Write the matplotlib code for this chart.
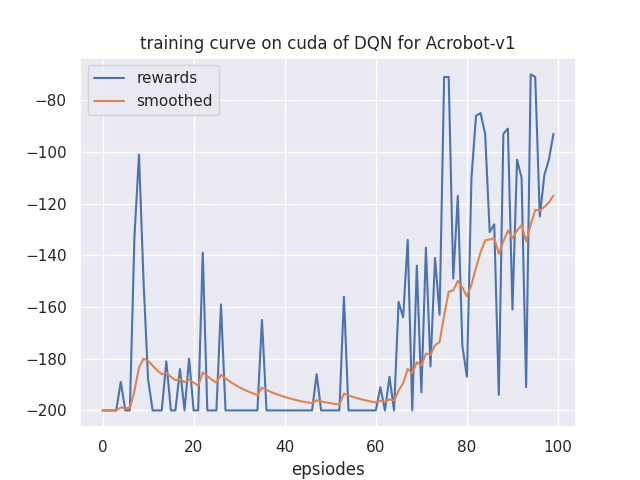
import matplotlib
matplotlib.use("Agg")
import matplotlib.pyplot as plt
import seaborn as sns

sns.set_theme()

# rewards per episode
rewards = [
    -200, -200, -200, -200, -189, -200, -200, -133, -101, -150,
    -188, -200, -200, -200, -181, -200, -200, -184, -200, -180,
    -200, -200, -139, -200, -200, -200, -159, -200, -200, -200,
    -200, -200, -200, -200, -200, -165, -200, -200, -200, -200,
    -200, -200, -200, -200, -200, -200, -200, -186, -200, -200,
    -200, -200, -200, -156, -200, -200, -200, -200, -200, -200,
    -200, -191, -200, -187, -200, -158, -164, -134, -200, -144,
    -193, -137, -183, -141, -163, -71, -71, -149, -117, -175,
    -187, -110, -86, -85, -93, -131, -128, -194, -93, -91,
    -161, -103, -110, -191, -70, -71, -125, -109, -103, -93,
]

# smoothed curve
smoothed = [
    -200.0, -200.0, -200.0, -200.0, -198.9, -199.0, -199.1, -192.5, -183.4, -180.0,
    -180.8, -182.7, -184.5, -186.0, -185.5, -187.0, -188.3, -187.8, -189.1, -188.2,
    -189.3, -190.4, -185.3, -186.7, -188.1, -189.3, -186.2, -187.6, -188.9, -190.0,
    -191.0, -191.9, -192.7, -193.4, -194.1, -191.2, -192.1, -192.9, -193.6, -194.2,
    -194.8, -195.3, -195.8, -196.2, -196.6, -196.9, -197.2, -196.1, -196.5, -196.9,
    -197.2, -197.5, -197.7, -193.5, -194.2, -194.8, -195.3, -195.8, -196.2, -196.6,
    -196.9, -196.3, -196.7, -195.7, -196.2, -192.3, -189.5, -184.0, -185.6, -181.4,
    -182.6, -178.0, -178.5, -174.8, -173.6, -163.3, -154.1, -153.6, -149.9, -152.4,
    -155.9, -151.3, -144.8, -138.8, -134.2, -133.9, -133.3, -139.4, -134.7, -130.4,
    -133.4, -130.4, -128.3, -134.6, -128.2, -122.4, -122.7, -121.3, -119.5, -116.9,
]

episodes = list(range(len(rewards)))

fig = plt.figure(figsize=(6.4, 4.8), dpi=100)
plt.plot(episodes, rewards, label="rewards")
plt.plot(episodes, smoothed, label="smoothed")
plt.title("training curve on cuda of DQN for Acrobot-v1")
plt.xlabel("epsiodes")
plt.legend(loc="upper left")
plt.savefig("out.png", dpi=100)
